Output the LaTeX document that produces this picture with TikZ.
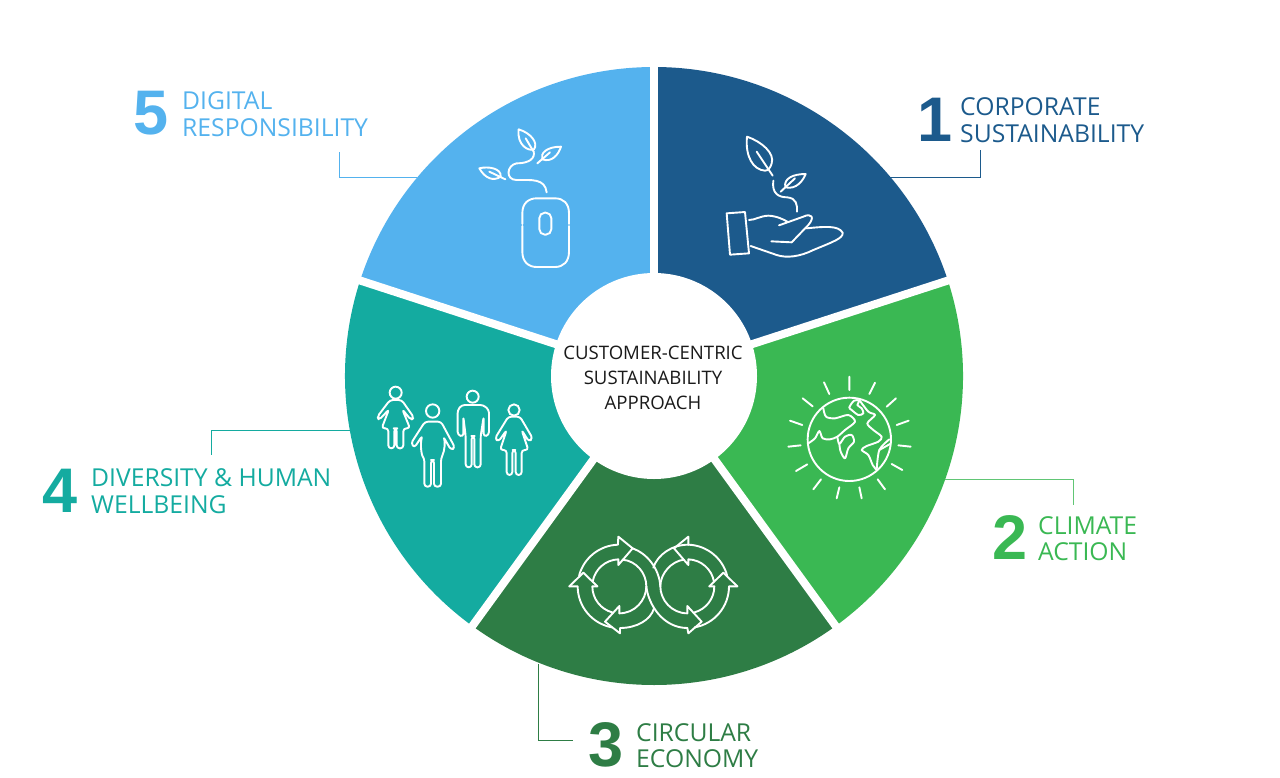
\documentclass[tikz,border=0pt]{standalone}
\usepackage{fontspec}
\setmainfont{Open Sans}
\newfontfamily\numfont{Liberation Sans}
\usepackage{xcolor}
\definecolor{corporateblue}{HTML}{1C5A8C}
\definecolor{climategreen}{HTML}{3AB853}
\definecolor{circulargreen}{HTML}{2E7D45}
\definecolor{diversityteal}{HTML}{14ABA0}
\definecolor{digitalblue}{HTML}{54B2EE}
\definecolor{hubtext}{HTML}{1A1A1A}
\begin{document}
\begin{tikzpicture}[x=1pt,y=1pt,
	wedge/.style={line width=0pt},
	gap/.style={white,line width=8pt},
	leader/.style={line width=0.9pt},
	tag/.style={anchor=west,inner sep=0pt,align=left,font=\fontsize{24.7}{26.6}\selectfont},
	num/.style={anchor=center,inner sep=0pt,font=\numfont\bfseries\fontsize{63}{63}\selectfont},
	icon/.style={white,line width=1.9pt,line join=round,line cap=round}]
	\useasboundingbox (0,0) rectangle (1280,-777);
	\begin{scope}[shift={(654,-376)}]
		\fill[corporateblue,wedge] (0,0) -- (90:309) arc[start angle=90,end angle=18,radius=309] -- cycle;
		\fill[climategreen,wedge] (0,0) -- (18:309) arc[start angle=18,end angle=-54,radius=309] -- cycle;
		\fill[circulargreen,wedge] (0,0) -- (-54:309) arc[start angle=-54,end angle=-126,radius=309] -- cycle;
		\fill[diversityteal,wedge] (0,0) -- (-126:309) arc[start angle=-126,end angle=-198,radius=309] -- cycle;
		\fill[digitalblue,wedge] (0,0) -- (162:309) arc[start angle=162,end angle=90,radius=309] -- cycle;
		\draw[gap] (0,0) -- (90:312);
		\draw[gap] (0,0) -- (18:312);
		\draw[gap] (0,0) -- (-54:312);
		\draw[gap] (0,0) -- (-126:312);
		\draw[gap] (0,0) -- (162:312);
	\end{scope}
	\node[circle,fill=white,minimum size=206pt,inner sep=0pt] (hub) at (654,-376) {};
	\node[inner sep=0pt,text=hubtext,align=center,font=\fontsize{18.6}{25}\selectfont] (hubLabel) at (653,-378) {CUSTOMER-CENTRIC\\SUSTAINABILITY\\APPROACH};

	\node[num,text=corporateblue] (numOne) at (935,-120) {1};
	\node[tag,text=corporateblue] (corporate) at (960,-120) {CORPORATE\\SUSTAINABILITY};
	\node[num,text=climategreen] (numTwo) at (1010,-537) {2};
	\node[tag,text=climategreen] (climate) at (1038,-538.5) {CLIMATE\\ACTION};
	\node[num,text=circulargreen] (numThree) at (606,-745) {3};
	\node[tag,text=circulargreen] (circular) at (636,-745.5) {CIRCULAR\\ECONOMY};
	\node[num,text=diversityteal] (numFour) at (60,-491) {4};
	\node[tag,text=diversityteal] (diversity) at (91,-491) {DIVERSITY \& HUMAN\\WELLBEING};
	\node[num,text=digitalblue] (numFive) at (151,-113) {5};
	\node[tag,text=digitalblue] (digital) at (182,-114) {DIGITAL\\RESPONSIBILITY};

	\coordinate (rimOne) at (890,-177);
	\coordinate (endOne) at (980,-150);
	\coordinate (rimTwo) at (945,-479);
	\coordinate (endTwo) at (1073,-505);
	\coordinate (rimThree) at (538,-664);
	\coordinate (endThree) at (573,-740);
	\coordinate (rimFour) at (350,-430);
	\coordinate (endFour) at (211,-455);
	\coordinate (rimFive) at (417,-177);
	\coordinate (endFive) at (339,-152);
	\draw[leader,corporateblue] (rimOne) -| (endOne);
	\draw[leader,climategreen!80!white] (rimTwo) -| (endTwo);
	\draw[leader,circulargreen] (rimThree) |- (endThree);
	\draw[leader,diversityteal] (rimFour) -| (endFour);
	\draw[leader,digitalblue] (rimFive) -| (endFive);

	\begin{scope}[shift={(700,-110)},xscale=1/3,yscale=-1/3]
		\draw[icon] (141,80) .. controls (185,95) and (225,130) .. (215,160) .. controls (212,172) and (205,182) .. (195,182) .. controls (160,180) and (135,140) .. (141,80) -- cycle;
		\draw[icon] (170,125) -- (218,197);
		\draw[icon] (317,192) .. controls (280,192) and (250,205) .. (256,232) .. controls (290,240) and (310,210) .. (317,192) -- cycle;
		\draw[icon] (242,245) -- (285,205);
		\draw[icon] (220,212) .. controls (215,250) and (235,262) .. (262,262) .. controls (290,265) and (292,285) .. (291,305);
		\draw[icon] (80,310) -- (135,306) -- (147,430) -- (90,434) -- cycle;
		\draw[icon] (147,330) .. controls (165,330) and (180,318) .. (205,317) .. controls (230,318) and (250,328) .. (262,335);
		\draw[icon] (237,346) -- (310,320) .. controls (335,308) and (345,322) .. (325,345) -- (275,397) -- (214,394);
		\draw[icon] (320,355) .. controls (370,350) and (415,345) .. (428,368) .. controls (430,385) and (400,395) .. (340,420) .. controls (300,440) and (260,445) .. (230,435) -- (152,408);
	\end{scope}

	\begin{scope}[shift={(780,-370)},xscale=1/3,yscale=-1/3]
		\draw[icon] (208,208) circle[radius=125];
		\draw[icon] (208,20) -- (208,60) (132,37) -- (148,72) (68,85) -- (98,109) (30,152) -- (67,165) (25,230) -- (62,226) (48,303) -- (82,283) (100,358) -- (123,328) (170,385) -- (178,352) (245,385) -- (238,352) (315,358) -- (293,328) (367,300) -- (335,282) (392,230) -- (355,226) (386,152) -- (350,165) (348,85) -- (320,110) (285,38) -- (268,72);
		\draw[icon] plot[smooth] coordinates {(130,115) (138,140) (165,145) (205,135) (225,155) (195,180) (172,200) (150,208) (128,205) (118,183) (105,205) (85,220)};
		\draw[icon] plot[smooth] coordinates {(172,200) (178,222) (195,200) (215,195) (222,215) (205,235) (195,265) (182,245) (178,222)};
		\draw[icon] plot[smooth cycle] coordinates {(222,92) (238,92) (232,105) (245,115) (250,130) (235,135) (215,120) (208,112)};
		\draw[icon] plot[smooth] coordinates {(238,90) (265,125) (285,135) (262,160) (280,180) (305,200) (295,215) (260,228) (245,240) (265,255) (278,285) (290,300)};
		\draw[icon] plot[smooth] coordinates {(290,300) (298,240) (328,208)};
		\draw[icon] (298,240) -- (330,222);
	\end{scope}

	\begin{scope}[shift={(560,-525)},xscale=1/3,yscale=-1/3]
		\coordinate (leftRing) at (178,184);
		\coordinate (rightRing) at (382,184);
		\draw[icon] (112,184) -- (70,143) -- (28,184);
		\draw[icon] (28,184) -- (53,184) arc[start angle=180,end angle=100,radius=125];
		\draw[icon] (112,184) -- (97,184) arc[start angle=180,end angle=105,radius=81];
		\draw[icon] (leftRing) ++(195:125) arc[start angle=195,end angle=268,radius=125] -- (175,35) -- (218,70) -- (175,120) -- (175,103) arc[start angle=268,end angle=190,radius=81];
		\draw[icon] (188,104) .. controls (230,108) and (259,145) .. (259,184) .. controls (265,240) and (310,309) .. (382,309);
		\draw[icon] (178,265) .. controls (225,265) and (259,225) .. (259,184);
		\draw[icon] (178,265) -- (178,243) -- (135,290) -- (180,325) -- (180,309) .. controls (230,309) and (272,285) .. (282,250);
		\draw[icon] (218,70) .. controls (260,85) and (298,130) .. (301,184) .. controls (301,225) and (335,265) .. (382,265);
		\draw[icon] (372,104) .. controls (335,108) and (301,145) .. (301,184);
		\draw[icon] (385,59) .. controls (335,59) and (292,90) .. (280,128);
		\draw[icon] (385,59) -- (385,35) -- (342,70) -- (385,120) -- (385,103) arc[start angle=-88,end angle=-10,radius=81];
		\draw[icon] (385,59) arc[start angle=-88,end angle=-15,radius=125];
		\draw[icon] (382,265) -- (382,243) -- (425,290) -- (385,325) -- (382,309);
		\draw[icon] (448,184) -- (490,143) -- (532,184);
		\draw[icon] (448,184) -- (463,184) arc[start angle=0,end angle=75,radius=81];
		\draw[icon] (532,184) -- (507,184) arc[start angle=0,end angle=80,radius=125];
	\end{scope}

	\begin{scope}[shift={(365,-375)},xscale=1/3,yscale=-1/3]
		\draw[icon] (92,53) circle[radius=18];
		\draw[icon,rounded corners=3pt] (75,75) -- (37,125) -- (42,135) -- (72,103) -- (50,160) -- (70,160) -- (70,220) -- (88,220) -- (88,160) -- (95,160) -- (95,220) -- (115,220) -- (115,160) -- (135,160) -- (112,103) -- (138,135) -- (147,128) -- (110,75) -- cycle;
		\draw[icon] (203,108) circle[radius=20];
		\draw[icon,rounded corners=3pt] (180,140) -- (138,205) -- (148,218) -- (172,182) .. controls (165,210) and (170,240) .. (178,250) -- (178,335) -- (198,335) -- (198,255) -- (207,255) -- (207,335) -- (228,335) -- (228,250) .. controls (240,225) and (240,200) .. (235,185) -- (258,225) -- (270,218) -- (228,140) -- cycle;
		\draw[icon] (323,65) circle[radius=18];
		\draw[icon,rounded corners=3pt] (290,90) -- (355,90) -- (372,105) -- (372,180) -- (356,185) -- (356,125) -- (347,183) -- (347,277) -- (328,277) -- (328,183) -- (320,183) -- (320,277) -- (302,277) -- (302,183) -- (295,125) -- (295,185) -- (278,180) -- (278,105) -- cycle;
		\draw[icon] (447,105) circle[radius=17];
		\draw[icon,rounded corners=3pt] (430,125) -- (390,190) -- (400,200) -- (425,165) -- (405,225) -- (425,225) -- (425,300) -- (442,300) -- (442,225) -- (452,225) -- (452,300) -- (470,300) -- (470,225) -- (490,225) -- (470,165) -- (492,200) -- (503,190) -- (465,125) -- cycle;
	\end{scope}

	\begin{scope}[shift={(460,-120)},xscale=1/3,yscale=-1/3]
		\draw[icon] (176,28) .. controls (215,40) and (235,70) .. (222,88) .. controls (205,95) and (170,75) .. (176,28) -- cycle;
		\draw[icon] (197,55) -- (222,97);
		\draw[icon] (303,80) .. controls (260,80) and (240,100) .. (247,118) .. controls (275,128) and (295,105) .. (303,80) -- cycle;
		\draw[icon] (232,130) -- (270,97);
		\draw[icon] (58,145) .. controls (85,138) and (125,145) .. (122,170) .. controls (100,185) and (75,175) .. (58,145) -- cycle;
		\draw[icon] (88,155) -- (136,178);
		\draw[icon] (222,100) .. controls (222,125) and (190,130) .. (170,130) .. controls (140,135) and (135,180) .. (170,180) .. controls (215,180) and (255,175) .. (260,217);
		\draw[icon] (187,312) -- (187,280) .. controls (187,250) and (205,235) .. (230,235) -- (285,235) .. controls (310,235) and (327,250) .. (327,280) -- (327,312);
		\draw[icon] (187,318) -- (187,395) .. controls (187,425) and (205,441) .. (230,441) -- (285,441) .. controls (310,441) and (327,425) .. (327,395) -- (327,318);
		\draw[icon,rounded corners=5.5pt] (238,278) rectangle (274,344);
	\end{scope}
\end{tikzpicture}
\end{document}
